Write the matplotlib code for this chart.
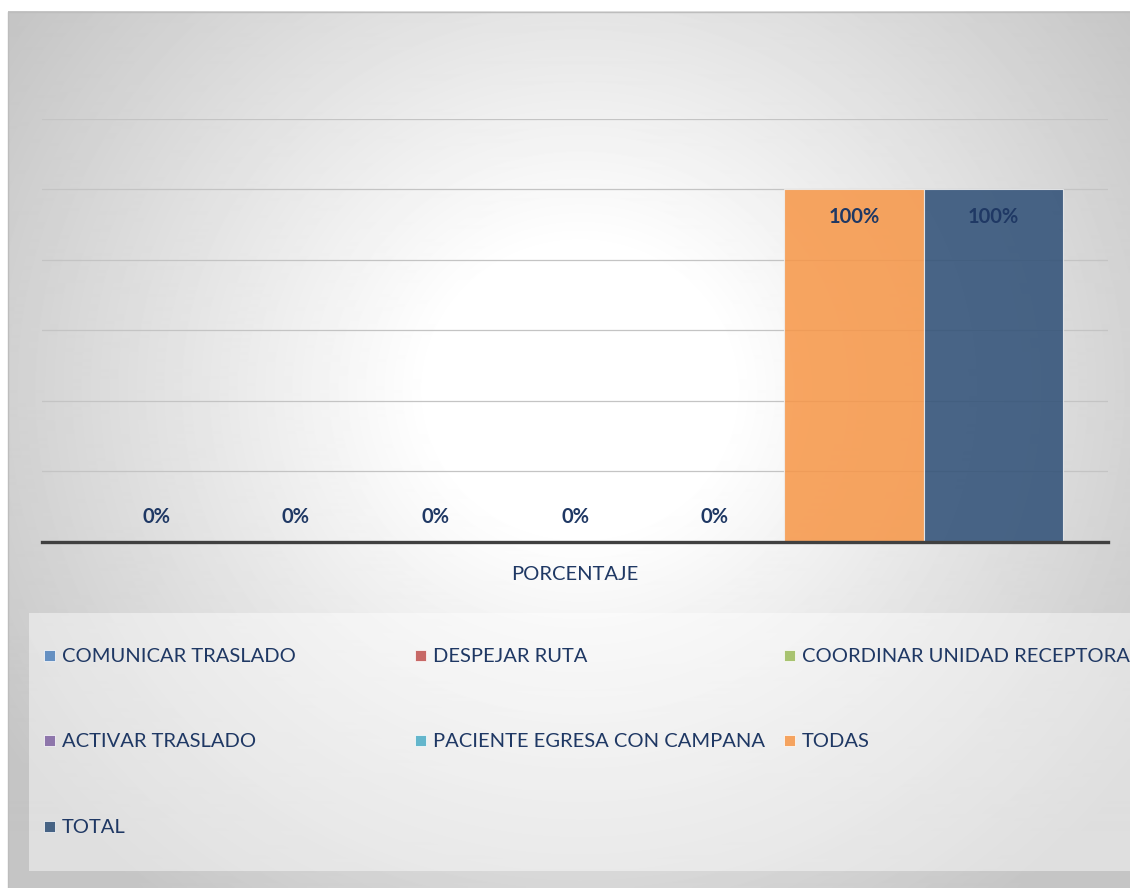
import numpy as np
import matplotlib
matplotlib.use('Agg')
import matplotlib.pyplot as plt
from matplotlib.patches import Rectangle

# data
category = 'PORCENTAJE'
series = ['COMUNICAR TRASLADO', 'DESPEJAR RUTA', 'COORDINAR UNIDAD RECEPTORA',
          'ACTIVAR TRASLADO', 'PACIENTE EGRESA CON CAMPANA', 'TODAS', 'TOTAL']
values = [0, 0, 0, 0, 0, 1.0, 1.0]
colors = ['#4F81BD', '#C0504D', '#9BBB59', '#8064A2', '#4BACC6', '#F79646', '#2C4D75']

W, H = 1130, 888
NAVY = '#1F3864'
plt.rcParams['font.family'] = ['Lato', 'DejaVu Sans']

fig = plt.figure(figsize=(W / 100, H / 100), dpi=100)

# background: radial grey-to-white gradient inside the chart frame
bg = fig.add_axes([0, 0, 1, 1], zorder=0)
bg.set_xlim(0, W)
bg.set_ylim(H, 0)
bg.axis('off')
yy, xx = np.mgrid[12:H, 8:W]
r = np.sqrt(((xx - 580) / 1.0) ** 2 + ((yy - 390) / 0.95) ** 2)
shade = 1 - 0.23 * np.clip((r - 150) / 540, 0, 1)
bg.imshow(shade, cmap='gray', vmin=0, vmax=1, extent=[8, W, H, 12],
          interpolation='bilinear', aspect='auto')
bg.plot([8, 8, W], [H, 12, 12], color='#bdbdbd', lw=1)

# legend box (semi transparent white) and entries
bg.add_patch(Rectangle((29, 613), W - 29, 258, facecolor='white',
                       alpha=0.45, edgecolor='none'))
col_x = [44, 415, 784]
row_y = [656, 741, 827]
for i, (name, c) in enumerate(zip(series, colors)):
    x = col_x[i % 3]
    y = row_y[i // 3]
    bg.add_patch(Rectangle((x, y - 6), 11, 11, facecolor=c, alpha=0.85,
                           edgecolor='white', lw=0.6))
    bg.text(x + 18, y, name, color=NAVY, fontsize=14.5, va='center', ha='left')

# main plot
ax = fig.add_axes([42 / W, (H - 542) / H, 1066 / W, 423 / H], zorder=1)
ax.set_facecolor('none')
n = len(series)
xs = np.arange(n)
bars = ax.bar(xs, values, width=1.0, color=colors, alpha=0.85,
              edgecolor='#f0f0f0', linewidth=0.8, zorder=2)

for x, v in zip(xs, values):
    off = -20 if v > 0 else 18
    ax.annotate(f'{v:.0%}', (x, v), xytext=(0, off), textcoords='offset points',
                ha='center', va='center', fontsize=14.5, fontweight='bold',
                color=NAVY, zorder=3)

m = 0.32
ax.set_xlim(-0.5 - m, n - 0.5 + m)
ax.set_ylim(0, 1.2)
ax.set_yticks(np.arange(0.2, 1.21, 0.2))
ax.yaxis.grid(True, color='#c4c4c4', lw=0.9, zorder=0)
ax.set_axisbelow(True)
ax.tick_params(left=False, labelleft=False, bottom=False)
ax.set_xticks([(n - 1) / 2])
ax.set_xticklabels([category], color=NAVY, fontsize=14.5)
ax.tick_params(axis='x', pad=14)
for s in ['top', 'right', 'left']:
    ax.spines[s].set_visible(False)
ax.spines['bottom'].set_color('#404040')
ax.spines['bottom'].set_linewidth(2.4)
ax.spines['bottom'].set_zorder(4)

fig.savefig('out.png', dpi=100)
